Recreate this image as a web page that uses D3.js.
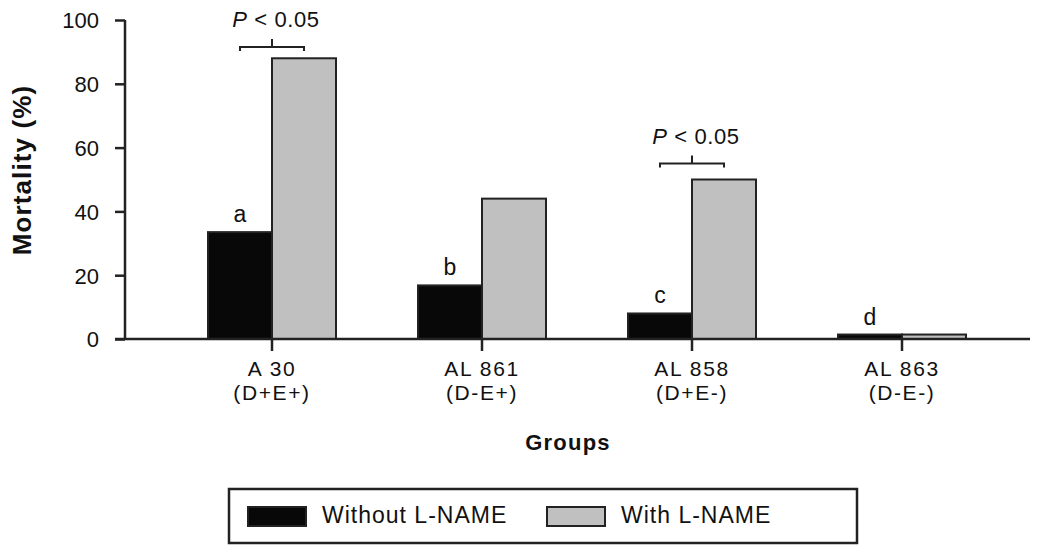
<!DOCTYPE html>
<html>
<head>
<meta charset="utf-8">
<script src="https://cdn.jsdelivr.net/npm/d3@7"></script>
<style>
  body { margin: 0; background: #fff; }
  svg text { font-family: Arial, "Liberation Sans", Helvetica, sans-serif; fill: #111; }
</style>
</head>
<body>
<svg id="chart" width="1050" height="545"></svg>
<script>
const GROUPS = ["A 30", "AL 861", "AL 858", "AL 863"];
const GROUP_SUBS = ["(D+E+)", "(D-E+)", "(D+E-)", "(D-E-)"];
const SERIES = ["Without L-NAME", "With L-NAME"];
const WITHOUT_VALUES = [33.5, 16.8, 8, 1.4];
const WITH_VALUES = [88, 44, 50, 1.4];
const LETTERS = ["a", "b", "c", "d"];
const SIG_LEVELS = [91.5, null, 55, null];
const Y_TICKS = [0, 20, 40, 60, 80, 100];

const FILLS = ["#080808", "#c0c0c0"];
const STROKE = "#222";


/**
 * Presenter which draws the grouped mortality bar chart.
 */
class MortalityPresenter {

  constructor(svgElement) {
    const self = this;
    self._svg = d3.select(svgElement);
  }

  render() {
    const self = this;
    const svg = self._svg;

    const y = d3.scaleLinear().domain([0, 100]).range([339, 20]);
    const x = d3.scaleBand().domain(GROUPS).range([167, 1007]).padding(0);
    const inner = d3.scaleBand().domain(SERIES).range([-64, 64]).padding(0);

    const rows = GROUPS.map((g, i) => ({
      group: g,
      sub: GROUP_SUBS[i],
      values: [WITHOUT_VALUES[i], WITH_VALUES[i]],
      letter: LETTERS[i],
      sig: SIG_LEVELS[i]
    }));

    const center = g => x(g) + x.bandwidth() / 2;

    const createBars = () => {
      const groups = svg.selectAll("g.group")
        .data(rows)
        .enter()
        .append("g")
        .attr("class", "group")
        .attr("transform", d => `translate(${center(d.group)},0)`);

      groups.selectAll("rect")
        .data(d => d.values.map((v, k) => ({series: SERIES[k], value: v, k: k})))
        .enter()
        .append("rect")
        .attr("x", d => inner(d.series))
        .attr("y", d => y(d.value))
        .attr("width", inner.bandwidth())
        .attr("height", d => y(0) - y(d.value))
        .attr("fill", d => FILLS[d.k])
        .attr("stroke", STROKE)
        .attr("stroke-width", 2);

      groups.append("text")
        .attr("x", inner(SERIES[0]) + inner.bandwidth() / 2)
        .attr("y", d => y(d.values[0]) - 10)
        .attr("text-anchor", "middle")
        .style("font-size", "23px")
        .text(d => d.letter);
    };

    const addSignificance = () => {
      const sigRows = rows.filter(d => d.sig !== null);
      const left = inner(SERIES[0]) + inner.bandwidth() / 2;
      const right = inner(SERIES[1]) + inner.bandwidth() / 2;

      const g = svg.selectAll("g.sig")
        .data(sigRows)
        .enter()
        .append("g")
        .attr("class", "sig")
        .attr("transform", d => `translate(${center(d.group)},${y(d.sig)})`);

      g.append("path")
        .attr("d", `M${left},4V0H${right}V4M${(left + right) / 2},0V-8`)
        .attr("fill", "none")
        .attr("stroke", STROKE)
        .attr("stroke-width", 2);

      const label = g.append("text")
        .attr("x", 4)
        .attr("y", -20)
        .attr("text-anchor", "middle")
        .style("font-size", "22px")
        .style("letter-spacing", "0.6px");
      label.append("tspan").style("font-style", "italic").text("P");
      label.append("tspan").text(" < 0.05");
    };

    const addVerticalAxis = () => {
      const axis = svg.append("g")
        .attr("transform", "translate(125,0)")
        .call(d3.axisLeft(y).tickValues(Y_TICKS).tickSize(10).tickPadding(16));
      axis.select(".domain").attr("stroke", STROKE).attr("stroke-width", 2.5)
        .attr("d", `M0,${y(100)}V${y(0)}`);
      axis.selectAll(".tick line").attr("stroke", STROKE).attr("stroke-width", 2.5);
      axis.selectAll(".tick text")
        .attr("dy", "0.36em")
        .style("font-size", "22px")
        .style("font-family", "Arial, 'Liberation Sans', sans-serif")
        .attr("fill", "#111");

      svg.append("text")
        .attr("transform", "translate(31,170) rotate(-90)")
        .attr("text-anchor", "middle")
        .style("font-size", "26px")
        .style("font-weight", "bold")
        .style("letter-spacing", "1.1px")
        .text("Mortality (%)");
    };

    const addHorizontalAxis = () => {
      svg.append("line")
        .attr("x1", 115).attr("x2", 1030)
        .attr("y1", y(0)).attr("y2", y(0))
        .attr("stroke", STROKE).attr("stroke-width", 2.5);

      const ticks = svg.selectAll("g.xtick")
        .data(rows)
        .enter()
        .append("g")
        .attr("class", "xtick")
        .attr("transform", d => `translate(${center(d.group)},${y(0)})`);

      ticks.append("line")
        .attr("y1", 0).attr("y2", 12)
        .attr("stroke", STROKE).attr("stroke-width", 2.5);

      ticks.append("text")
        .attr("y", 37)
        .attr("text-anchor", "middle")
        .style("font-size", "21px")
        .style("letter-spacing", "1.6px")
        .text(d => d.group);

      ticks.append("text")
        .attr("y", 61)
        .attr("text-anchor", "middle")
        .style("font-size", "21px")
        .style("letter-spacing", "1.6px")
        .text(d => d.sub);

      svg.append("text")
        .attr("x", 568)
        .attr("y", 450)
        .attr("text-anchor", "middle")
        .style("font-size", "22px")
        .style("font-weight", "bold")
        .style("letter-spacing", "1.2px")
        .text("Groups");
    };

    const addLegend = () => {
      svg.append("rect")
        .attr("x", 229).attr("y", 489)
        .attr("width", 628).attr("height", 54)
        .attr("fill", "#fff")
        .attr("stroke", STROKE).attr("stroke-width", 2.5);

      const items = svg.selectAll("g.legend-item")
        .data(SERIES)
        .enter()
        .append("g")
        .attr("class", "legend-item")
        .attr("transform", (d, i) => `translate(${248 + i * 299},507)`);

      items.append("rect")
        .attr("width", 58).attr("height", 19)
        .attr("fill", (d, i) => FILLS[i])
        .attr("stroke", STROKE).attr("stroke-width", 2);

      items.append("text")
        .attr("x", 74)
        .attr("y", 16)
        .style("font-size", "23px")
        .style("letter-spacing", "1px")
        .text(d => d);
    };

    createBars();
    addSignificance();
    addVerticalAxis();
    addHorizontalAxis();
    addLegend();
  }

}

new MortalityPresenter(document.querySelector("#chart")).render();
</script>
</body>
</html>
